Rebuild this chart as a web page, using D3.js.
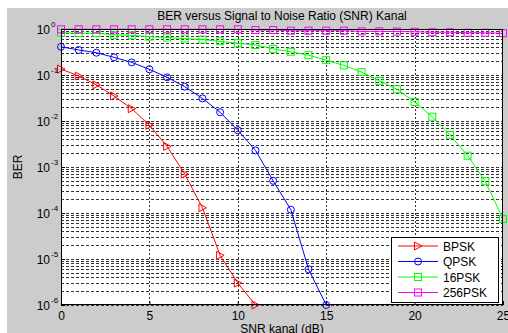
<!DOCTYPE html>
<html>
<head>
<meta charset="utf-8">
<script src="https://cdn.jsdelivr.net/npm/d3@7"></script>
<style>
  body { margin: 0; background: #fff; }
  svg { display: block; font-family: "Liberation Sans", Arial, sans-serif; }
</style>
</head>
<body>
<script>
// data
var snr = d3.range(0, 26);
var bpsk = [0.135, 0.095, 0.061, 0.035, 0.0185, 0.0081, 0.0028, 7e-4, 1.3e-4, 1.2e-5, 3e-6, 1e-6];
var qpsk = [0.41, 0.35, 0.305, 0.242, 0.188, 0.133, 0.089, 0.0557, 0.031, 0.0155, 0.0063, 0.0023, 5e-4, 1.18e-4, 6e-6, 1e-6];
var psk16 = [0.83, 0.81, 0.81, 0.75, 0.73, 0.68, 0.65, 0.62, 0.59, 0.54, 0.49, 0.45, 0.37, 0.32, 0.27, 0.21,
             0.162, 0.116, 0.075, 0.049, 0.026, 0.0124, 0.005, 0.00176, 4.9e-4, 7.4e-5];
var psk256 = [0.985, 0.985, 0.985, 0.985, 0.985, 0.985, 0.985, 0.985, 0.985, 0.985, 0.985, 0.95, 0.95, 0.92, 0.92, 0.92,
              0.92, 0.89, 0.89, 0.88, 0.87, 0.85, 0.85, 0.83, 0.83, 0.81];
var names = ["BPSK", "QPSK", "16PSK", "256PSK"];
var colors = ["#ff0000", "#0000ff", "#00ff00", "#ff00ff"];
var markers = ["tri", "circle", "square", "square"];
var xTicks = [0, 5, 10, 15, 20, 25];
var yExp = [0, -1, -2, -3, -4, -5, -6];

var W = 508, H = 333;
var pL = 61, pR = 503, pT = 29, pB = 305;

var svg = d3.select("body").append("svg").attr("width", W).attr("height", H);

// grey figure background
svg.append("rect").attr("x", 7).attr("y", 8).attr("width", W - 7).attr("height", H - 8).attr("fill", "#cccccc");
svg.append("rect").attr("x", pL).attr("y", pT).attr("width", pR - pL).attr("height", pB - pT).attr("fill", "#fff");

var x = d3.scaleLinear().domain([0, 25]).range([pL, pR]);
var y = d3.scaleLog().domain([1e-6, 1]).range([pB, pT]);

// grid
var g = svg.append("g");
var minor = [];
yExp.forEach(function(e) {
  if (e < 0) for (var m = 1; m < 10; m++) minor.push(m * Math.pow(10, e));
});
minor.push(1);
g.selectAll("line.hg").data(minor).enter().append("line")
  .attr("x1", pL).attr("x2", pR)
  .attr("y1", function(d) { return Math.round(y(d)) + 0.5; })
  .attr("y2", function(d) { return Math.round(y(d)) + 0.5; })
  .attr("stroke", "#333").attr("stroke-width", 1).attr("stroke-dasharray", "3,2");
g.selectAll("line.vg").data(xTicks.slice(1, 5)).enter().append("line")
  .attr("x1", function(d) { return Math.round(x(d)) + 0.5; })
  .attr("x2", function(d) { return Math.round(x(d)) + 0.5; })
  .attr("y1", pT).attr("y2", pB)
  .attr("stroke", "#333").attr("stroke-width", 1).attr("stroke-dasharray", "2,2");

// series
var series = [bpsk, qpsk, psk16, psk256];
var line = d3.line().x(function(d, i) { return x(snr[i]); }).y(function(d) { return y(d); });

function drawMarker(sel, type, color) {
  if (type == "circle") {
    sel.append("circle").attr("r", 3.5).attr("fill", "none").attr("stroke", color);
  } else if (type == "square") {
    sel.append("rect").attr("x", -3.5).attr("y", -3.5).attr("width", 7).attr("height", 7)
      .attr("fill", "none").attr("stroke", color);
  } else {
    sel.append("path").attr("d", "M-3.5,-4L4,0L-3.5,4Z").attr("fill", "none").attr("stroke", color);
  }
}

series.forEach(function(s, k) {
  var sg = svg.append("g");
  sg.append("path").datum(s).attr("d", line).attr("fill", "none").attr("stroke", colors[k]).attr("stroke-width", 1);
  sg.selectAll("g.m").data(s).enter().append("g")
    .attr("transform", function(d, i) { return "translate(" + x(snr[i]) + "," + y(d) + ")"; })
    .each(function() { drawMarker(d3.select(this), markers[k], colors[k]); });
});

// axes box and ticks
svg.append("rect").attr("x", pL + 0.5).attr("y", pT + 0.5).attr("width", pR - pL - 1).attr("height", pB - pT - 1)
  .attr("fill", "none").attr("stroke", "#000");

var xAxis = svg.append("g").attr("transform", "translate(0," + pB + ")")
  .call(d3.axisBottom(x).tickValues(xTicks).tickSize(-4).tickPadding(6).tickFormat(d3.format("d")));
xAxis.select(".domain").remove();
xAxis.selectAll("text").attr("font-size", 12).attr("fill", "#000").attr("font-family", "Liberation Sans, Arial");

var yAxis = svg.append("g").attr("transform", "translate(" + pL + ",0)")
  .call(d3.axisLeft(y).tickValues(yExp.map(function(e) { return Math.pow(10, e); })).tickSize(-4).tickFormat(""));
yAxis.select(".domain").remove();

yExp.forEach(function(e) {
  svg.append("text").attr("x", pL - 11).attr("y", y(Math.pow(10, e)) + 5)
    .attr("text-anchor", "end").attr("font-size", 12).text("10");
  svg.append("text").attr("x", pL - 10).attr("y", y(Math.pow(10, e)) - 2)
    .attr("font-size", 8).text(e);
});

// titles
svg.append("text").attr("x", (pL + pR) / 2).attr("y", 20).attr("text-anchor", "middle")
  .attr("font-size", 12).text("BER versus Signal to Noise Ratio (SNR) Kanal");
svg.append("text").attr("x", (pL + pR) / 2).attr("y", 333).attr("text-anchor", "middle")
  .attr("font-size", 12).text("SNR kanal (dB)");
svg.append("text").attr("transform", "translate(22," + ((pT + pB) / 2) + ") rotate(-90)")
  .attr("text-anchor", "middle").attr("font-size", 12).text("BER");

// legend
var lg = svg.append("g");
lg.append("rect").attr("x", 391.5).attr("y", 237.5).attr("width", 107).attr("height", 65)
  .attr("fill", "#fff").attr("stroke", "#000");
names.forEach(function(n, k) {
  var yy = 246 + k * 15.5;
  lg.append("line").attr("x1", 398).attr("x2", 438).attr("y1", yy).attr("y2", yy).attr("stroke", colors[k]);
  var m = lg.append("g").attr("transform", "translate(418," + yy + ")");
  drawMarker(m, markers[k], colors[k]);
  lg.append("text").attr("x", 443).attr("y", yy + 4.5).attr("font-size", 12).text(n);
});
</script>
</body>
</html>
